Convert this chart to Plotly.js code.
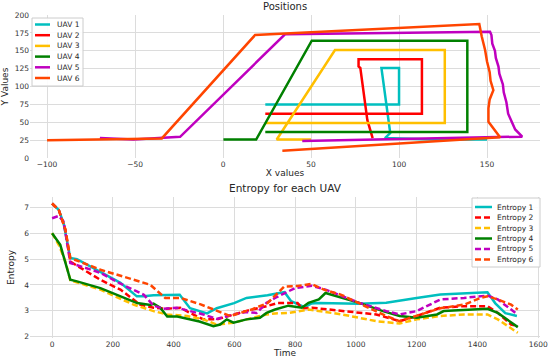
<!DOCTYPE html>
<html>
<head>
<meta charset="utf-8">
<script src="https://cdn.plot.ly/plotly-3.0.1.min.js"></script>
<style>html,body{margin:0;padding:0;background:#fff;}#chart{width:550px;height:362px;}</style>
</head>
<body>
<div id="chart"></div>
<script>
// ---- Positions (top panel) ----
const uavNames = ["UAV 1", "UAV 2", "UAV 3", "UAV 4", "UAV 5", "UAV 6"];
const uav1X = [150, 120, 92, 95, 90, 100, 100, 24];
const uav1Y = [26, 26, 28, 35, 126, 126, 75, 75];
const uav2X = [85, 82, 78, 77, 77, 113, 113, 24];
const uav2Y = [28, 53, 126, 128, 138, 138, 62, 62];
const uav3X = [50, 30.5, 63.6, 126, 126, 24];
const uav3Y = [26, 26, 151, 151, 49, 49];
const uav4X = [0.2, 18.8, 50.4, 138.8, 138.8, 24];
const uav4Y = [26, 26, 164, 164, 36.5, 36.5];
const uav5X = [-70, -51, -24.4, 35.2, 151.7, 152.5, 153, 154.5, 155, 156.5, 157, 159, 159.5, 161, 162, 164, 166, 170, 45];
const uav5Y = [28, 26, 29.8, 173, 176.7, 172, 160, 150, 140, 128, 118, 103, 92, 78, 62, 50, 40, 30, 24];
const uav6X = [-100, -34.8, 18.2, 145.6, 147, 148.9, 150, 151.5, 152, 153.6, 151.5, 150.8, 150.8, 157.4, 33.7];
const uav6Y = [25, 27.5, 172, 187.4, 170, 151, 135, 120, 108, 95, 82, 69.5, 50.8, 29, 10.2];

// ---- Entropy (bottom panel) ----
const entNames = ["Entropy 1", "Entropy 2", "Entropy 3", "Entropy 4", "Entropy 5", "Entropy 6"];
const e1T = [0, 22, 38, 60, 82, 159, 225, 279, 301, 334, 410, 420, 454, 498, 510, 542, 599, 640, 709, 753, 765, 787, 831, 853, 878, 1011, 1100, 1200, 1278, 1433, 1459, 1492, 1530];
const e1V = [7.15, 6.9, 6.38, 5.04, 5.0, 4.5, 4.08, 3.56, 3.56, 3.6, 3.6, 3.62, 3.1, 2.92, 2.9, 3.1, 3.3, 3.5, 3.6, 3.7, 3.72, 3.37, 3.14, 3.28, 3.3, 3.27, 3.31, 3.5, 3.63, 3.72, 3.29, 2.91, 2.8];
const e2T = [0, 22, 44, 60, 159, 225, 290, 334, 378, 422, 454, 498, 542, 597, 640, 706, 742, 808, 822, 855, 955, 1067, 1144, 1200, 1278, 1356, 1433, 1467, 1511, 1533];
const e2V = [7.15, 6.9, 6.13, 4.9, 4.2, 3.82, 3.24, 3.12, 3.08, 3.12, 2.92, 2.67, 2.67, 2.86, 3.0, 3.18, 3.3, 3.3, 3.1, 3.12, 2.99, 2.86, 2.6, 2.8, 3.12, 3.18, 3.18, 2.92, 2.47, 2.41];
const e3T = [0, 22, 44, 60, 159, 268, 334, 378, 444, 498, 542, 597, 640, 706, 734, 778, 844, 955, 1067, 1144, 1200, 1278, 1356, 1433, 1467, 1533];
const e3V = [6.0, 5.55, 4.9, 4.18, 3.82, 3.24, 2.99, 2.86, 2.8, 2.67, 2.47, 2.54, 2.67, 2.86, 2.9, 2.92, 3.05, 2.86, 2.6, 2.51, 2.67, 2.8, 2.86, 2.86, 2.67, 2.15];
const e4T = [0, 27, 60, 82, 159, 280, 324, 334, 356, 379, 412, 485, 531, 553, 575, 597, 640, 684, 706, 734, 778, 822, 844, 878, 900, 955, 1011, 1089, 1144, 1200, 1267, 1289, 1433, 1467, 1533];
const e4V = [6.0, 5.55, 4.2, 4.14, 3.88, 3.3, 3.23, 3.28, 3.12, 2.78, 2.78, 2.59, 2.41, 2.47, 2.67, 2.54, 2.67, 2.73, 2.92, 3.05, 3.2, 3.12, 3.31, 3.44, 3.69, 3.5, 3.31, 2.99, 2.8, 2.73, 2.86, 2.99, 3.08, 2.92, 2.37];
const e5T = [0, 22, 38, 60, 159, 225, 279, 302, 334, 367, 411, 454, 498, 542, 597, 640, 673, 706, 734, 800, 855, 900, 1011, 1100, 1144, 1200, 1278, 1356, 1433, 1467, 1528];
const e5V = [6.58, 6.67, 6.45, 4.85, 4.47, 4.05, 3.75, 3.62, 3.2, 3.08, 3.12, 3.0, 2.86, 2.69, 2.86, 2.95, 2.92, 3.31, 3.5, 3.88, 3.97, 3.82, 3.31, 2.99, 2.86, 2.99, 3.44, 3.5, 3.59, 3.44, 2.9];
const e6T = [0, 22, 44, 60, 159, 323, 372, 422, 489, 586, 654, 709, 742, 764, 808, 853, 897, 952, 1018, 1100, 1144, 1200, 1278, 1356, 1411, 1433, 1467, 1511, 1533];
const e6V = [7.15, 6.9, 6.13, 5.04, 4.59, 4.01, 3.5, 3.5, 3.25, 2.8, 3.04, 3.3, 3.68, 3.94, 3.96, 4.04, 3.81, 3.62, 3.25, 2.8, 2.6, 2.8, 3.1, 3.24, 3.5, 3.56, 3.44, 3.24, 3.05];

const colors = ["#00bfbf", "#ff0000", "#ffbf00", "#008000", "#bf00bf", "#ff4500"];
const posX = [uav1X, uav2X, uav3X, uav4X, uav5X, uav6X];
const posY = [uav1Y, uav2Y, uav3Y, uav4Y, uav5Y, uav6Y];
const entT = [e1T, e2T, e3T, e4T, e5T, e6T];
const entV = [e1V, e2V, e3V, e4V, e5V, e6V];
const DASH = "6px,3px";
const entDash = ["solid", DASH, DASH, "solid", DASH, DASH];

const traces = [];
for (let i = 0; i < 6; i++) {
  traces.push({
    type: "scatter", mode: "lines", name: uavNames[i], x: posX[i], y: posY[i],
    xaxis: "x", yaxis: "y", showlegend: false,
    line: {color: colors[i], width: 2.5}
  });
}
for (let i = 0; i < 6; i++) {
  traces.push({
    type: "scatter", mode: "lines", name: entNames[i], x: entT[i], y: entV[i],
    xaxis: "x2", yaxis: "y2", showlegend: false,
    line: {color: colors[i], width: 2.5, dash: entDash[i]}
  });
}

// plot-area pixel helpers for the hand-built compact legends (matplotlib-like spacing)
const M = {l: 30, r: 10, t: 15, b: 24};
const W = 550 - M.l - M.r, H = 362 - M.t - M.b;
const px = v => (v - M.l) / W;
const py = v => (362 - M.b - v) / H;

const shapes = [];
const annotations = [];
function addLegend(names, dashes, box, lineX0, lineX1, textX, rowY0, rowStep) {
  shapes.push({type: "rect", xref: "paper", yref: "paper", x0: px(box[0]), x1: px(box[1]), y0: py(box[3]), y1: py(box[2]),
    line: {color: "#cccccc", width: 1}, fillcolor: "rgba(255,255,255,0.9)", layer: "above"});
  for (let i = 0; i < names.length; i++) {
    const yy = rowY0 + i * rowStep;
    shapes.push({type: "line", xref: "paper", yref: "paper", x0: px(lineX0), x1: px(lineX1), y0: py(yy), y1: py(yy),
      line: {color: colors[i], width: 2.5, dash: dashes[i]}, layer: "above"});
    annotations.push({text: names[i], xref: "paper", yref: "paper", x: px(textX), y: py(yy), xanchor: "left", yanchor: "middle",
      showarrow: false, font: {family: "DejaVu Sans", size: 7.5, color: "#262626"}});
  }
}
addLegend(uavNames, ["solid", "solid", "solid", "solid", "solid", "solid"], [32, 83, 18, 86], 35, 50, 55, 24.5, 10.7);
addLegend(entNames, entDash, [472, 540, 198, 267], 475, 492, 495, 207, 10.5);

annotations.push({text: "Positions", xref: "paper", yref: "paper", x: 0.5, y: 1, yshift: 1, yanchor: "bottom", xanchor: "center",
  showarrow: false, font: {family: "DejaVu Sans", size: 10, color: "#262626"}});
annotations.push({text: "Entropy for each UAV", xref: "paper", yref: "paper", x: 0.5, y: 0.4365, yshift: 1, yanchor: "bottom", xanchor: "center",
  showarrow: false, font: {family: "DejaVu Sans", size: 10.5, color: "#262626"}});

const grid = "#dcdcdc";
const tickFont = {family: "DejaVu Sans", size: 7.5, color: "#333"};
const titleFont = {family: "DejaVu Sans", size: 9, color: "#262626"};

const layout = {
  width: 550, height: 362,
  margin: M,
  paper_bgcolor: "#fff", plot_bgcolor: "#fff",
  showlegend: false,
  font: {family: "DejaVu Sans", color: "#262626"},
  xaxis: {domain: [0, 1], anchor: "y", range: [-109.7, 180.1], tickvals: [-100, -50, 0, 50, 100, 150],
    ticktext: ["\u2212100", "\u221250", "0", "50", "100", "150"],
    showgrid: true, gridcolor: grid, gridwidth: 1, zeroline: false, showline: false, ticks: "",
    tickfont: tickFont, title: {text: "X values", font: titleFont, standoff: 2}},
  yaxis: {domain: [0.557, 1], anchor: "x", range: [0, 200], tickvals: [0, 25, 50, 75, 100, 125, 150, 175, 200],
    showgrid: true, gridcolor: grid, gridwidth: 1, zeroline: false, showline: false, ticks: "",
    tickfont: tickFont, title: {text: "Y Values", font: titleFont, standoff: 4}},
  xaxis2: {domain: [0, 1], anchor: "y2", range: [-72.7, 1606], tickvals: [0, 200, 400, 600, 800, 1000, 1200, 1400, 1600],
    showgrid: true, gridcolor: grid, gridwidth: 1, zeroline: false, showline: false, ticks: "",
    tickfont: tickFont, title: {text: "Time", font: titleFont, standoff: 2}},
  yaxis2: {domain: [0, 0.4365], anchor: "x2", range: [1.95, 7.4], tickvals: [2, 3, 4, 5, 6, 7],
    showgrid: true, gridcolor: grid, gridwidth: 1, zeroline: false, showline: false, ticks: "",
    tickfont: tickFont, title: {text: "Entropy", font: titleFont, standoff: 8}},
  shapes: shapes,
  annotations: annotations
};

Plotly.newPlot("chart", traces, layout, {displayModeBar: false, staticPlot: true});
</script>
</body>
</html>
